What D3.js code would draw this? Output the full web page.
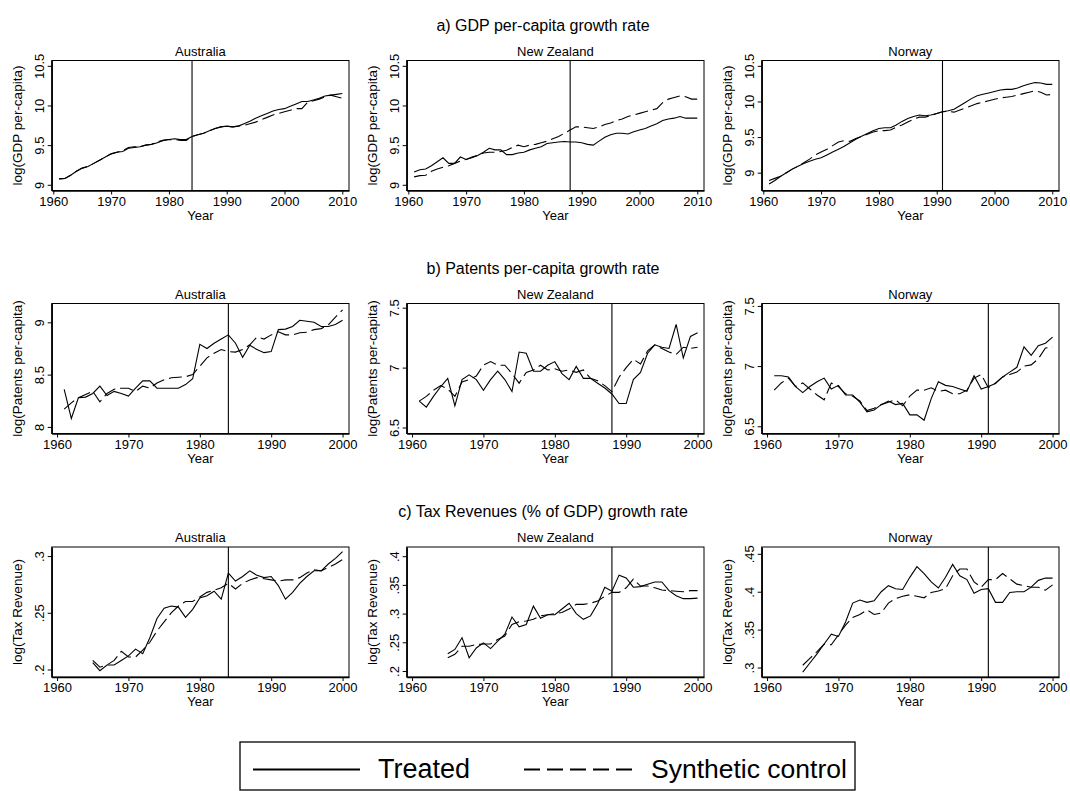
<!DOCTYPE html>
<html>
<head>
<meta charset="utf-8">
<script src="https://cdn.jsdelivr.net/npm/d3@7"></script>
<style>
  body { margin: 0; background: #fff; }
  text { font-family: "Liberation Sans", Arial, sans-serif; fill: #000; }
</style>
</head>
<body>
<div id="chart-area"></div>
<script>

// ---- data ----
let countries = ["Australia", "New Zealand", "Norway"];
let treatYears = [1984, 1988, 1991];

let rowTitles = ["a) GDP per-capita growth rate",
                 "b) Patents per-capita growth rate",
                 "c) Tax Revenues (% of GDP) growth rate"];
let rowYLabels = ["log(GDP per-capita)", "log(Patents per-capita)", "log(Tax Revenue)"];
let rowStartYear = [1961, 1961, 1965];
let rowXTicks = [[1960, 1970, 1980, 1990, 2000, 2010],
                 [1960, 1970, 1980, 1990, 2000],
                 [1960, 1970, 1980, 1990, 2000]];

// y tick labels, per panel (row by row)
let yTicks = [
  [[9, 9.5, 10, 10.5], [9, 9.5, 10, 10.5], [9, 9.5, 10, 10.5]],
  [[8, 8.5, 9], [6.5, 7, 7.5], [6.5, 7, 7.5]],
  [[.2, .25, .3], [.2, .25, .3, .35, .4], [.3, .35, .4, .45]]
];

// GDP, 1961-2010
let gdpAusTreated = [9.08, 9.08, 9.12, 9.17, 9.21, 9.23, 9.27, 9.31, 9.35, 9.39,
  9.41, 9.42, 9.46, 9.47, 9.48, 9.50, 9.51, 9.53, 9.56, 9.57,
  9.58, 9.57, 9.57, 9.61, 9.63, 9.65, 9.68, 9.71, 9.73, 9.74,
  9.73, 9.74, 9.77, 9.80, 9.84, 9.87, 9.90, 9.93, 9.95, 9.96,
  9.99, 10.02, 10.05, 10.05, 10.07, 10.09, 10.12, 10.13, 10.14, 10.15];
let gdpAusSynth = [9.07, 9.08, 9.12, 9.17, 9.21, 9.23, 9.27, 9.31, 9.35, 9.39,
  9.41, 9.43, 9.47, 9.48, 9.48, 9.50, 9.51, 9.54, 9.56, 9.57,
  9.57, 9.56, 9.56, 9.61, 9.63, 9.65, 9.68, 9.71, 9.73, 9.74,
  9.73, 9.74, 9.75, 9.77, 9.79, 9.82, 9.85, 9.88, 9.90, 9.92,
  9.94, 9.96, 9.96, 10.04, 10.06, 10.08, 10.11, 10.13, 10.11, 10.09];
let gdpNzTreated = [9.16, 9.19, 9.20, 9.24, 9.29, 9.34, 9.27, 9.27, 9.35, 9.32,
  9.34, 9.37, 9.41, 9.46, 9.44, 9.44, 9.38, 9.38, 9.40, 9.41,
  9.44, 9.46, 9.48, 9.52, 9.53, 9.54, 9.545, 9.54, 9.54, 9.53,
  9.51, 9.50, 9.55, 9.60, 9.63, 9.65, 9.65, 9.64, 9.67, 9.69,
  9.71, 9.74, 9.77, 9.81, 9.83, 9.84, 9.86, 9.84, 9.84, 9.84];
let gdpNzSynth = [9.10, 9.115, 9.12, 9.17, 9.20, 9.22, 9.24, 9.27, 9.30, 9.32,
  9.35, 9.37, 9.40, 9.41, 9.41, 9.42, 9.435, 9.47, 9.50, 9.48,
  9.50, 9.51, 9.53, 9.55, 9.58, 9.61, 9.65, 9.69, 9.73, 9.73,
  9.72, 9.71, 9.73, 9.76, 9.78, 9.81, 9.83, 9.86, 9.88, 9.90,
  9.92, 9.94, 9.96, 10.035, 10.08, 10.10, 10.12, 10.11, 10.08, 10.08];
let gdpNorTreated = [8.84, 8.89, 8.95, 9.00, 9.05, 9.09, 9.13, 9.16, 9.19, 9.21,
  9.25, 9.29, 9.33, 9.37, 9.42, 9.47, 9.51, 9.55, 9.59, 9.62,
  9.63, 9.63, 9.67, 9.72, 9.76, 9.79, 9.81, 9.80, 9.81, 9.83,
  9.855, 9.87, 9.89, 9.94, 9.99, 10.04, 10.08, 10.10, 10.12, 10.14,
  10.16, 10.17, 10.17, 10.19, 10.22, 10.245, 10.265, 10.26, 10.24, 10.24];
let gdpNorSynth = [8.89, 8.92, 8.95, 9.00, 9.05, 9.09, 9.14, 9.19, 9.25, 9.29,
  9.33, 9.38, 9.43, 9.45, 9.44, 9.48, 9.51, 9.54, 9.57, 9.59,
  9.59, 9.60, 9.64, 9.67, 9.71, 9.75, 9.78, 9.78, 9.80, 9.83,
  9.855, 9.86, 9.85, 9.88, 9.91, 9.94, 9.97, 9.99, 10.01, 10.03,
  10.05, 10.06, 10.07, 10.09, 10.11, 10.13, 10.15, 10.13, 10.09, 10.10];

// Patents, 1961-2000
let patAusTreated = [8.36, 8.08, 8.28, 8.285, 8.32, 8.39, 8.30, 8.34, 8.32, 8.295,
  8.37, 8.44, 8.44, 8.37, 8.37, 8.37, 8.37, 8.405, 8.46, 8.79,
  8.75, 8.80, 8.84, 8.88, 8.80, 8.665, 8.78, 8.74, 8.71, 8.72,
  8.93, 8.935, 8.96, 9.02, 9.01, 9.00, 8.96, 8.96, 8.98, 9.02];
let patAusSynth = [8.17, 8.23, 8.28, 8.31, 8.34, 8.24, 8.32, 8.36, 8.37, 8.37,
  8.34, 8.39, 8.37, 8.42, 8.45, 8.47, 8.475, 8.48, 8.50, 8.58,
  8.66, 8.705, 8.74, 8.72, 8.715, 8.74, 8.785, 8.86, 8.84, 8.88,
  8.91, 8.88, 8.88, 8.90, 8.905, 8.93, 8.94, 8.975, 9.05, 9.12];
let patNzTreated = [6.72, 6.67, 6.76, 6.84, 6.91, 6.68, 6.90, 6.94, 6.90, 6.81,
  6.90, 6.97, 6.90, 6.80, 7.13, 7.12, 6.97, 6.97, 7.02, 7.05,
  6.95, 6.90, 7.01, 6.91, 6.91, 6.87, 6.83, 6.78, 6.70, 6.70,
  6.90, 6.96, 7.12, 7.19, 7.17, 7.16, 7.36, 7.08, 7.26, 7.29];
let patNzSynth = [6.72, 6.76, 6.81, 6.85, 6.82, 6.76, 6.88, 6.90, 6.93, 7.02,
  7.05, 7.02, 7.02, 6.95, 6.87, 6.96, 6.98, 7.02, 6.98, 6.99,
  6.97, 6.98, 6.96, 6.98, 6.91, 6.89, 6.85, 6.80, 6.92, 7.00,
  7.07, 7.03, 7.14, 7.19, 7.16, 7.13, 7.11, 7.17, 7.16, 7.17];
let patNorTreated = [6.92, 6.92, 6.91, 6.83, 6.78, 6.83, 6.87, 6.90, 6.81, 6.84,
  6.76, 6.76, 6.70, 6.62, 6.635, 6.68, 6.71, 6.68, 6.69, 6.595,
  6.595, 6.55, 6.73, 6.87, 6.84, 6.83, 6.81, 6.79, 6.92, 6.81,
  6.83, 6.855, 6.91, 6.95, 6.99, 7.16, 7.09, 7.17, 7.19, 7.24];
let patNorSynth = [6.80, 6.86, 6.90, 6.83, 6.86, 6.81, 6.76, 6.72, 6.86, 6.83,
  6.77, 6.75, 6.71, 6.63, 6.65, 6.68, 6.70, 6.72, 6.67, 6.75,
  6.80, 6.80, 6.82, 6.79, 6.80, 6.77, 6.77, 6.80, 6.90, 6.93,
  6.82, 6.86, 6.91, 6.93, 6.95, 7.00, 7.01, 7.06, 7.15, 7.16];

// Tax revenue, 1965-2000
let taxAusTreated = [.206, .199, .204, .204, .208, .212, .218, .214, .228, .245,
  .254, .256, .255, .246, .253, .263, .265, .269, .262, .285,
  .278, .282, .287, .283, .281, .282, .274, .262, .268, .276,
  .282, .287, .287, .293, .298, .304];
let taxAusSynth = [.208, .202, .204, .208, .216, .211, .211, .217, .224, .234,
  .242, .250, .256, .260, .260, .264, .268, .270, .272, .276,
  .271, .276, .279, .281, .280, .279, .278, .279, .279, .281,
  .285, .288, .287, .290, .293, .297];
let taxNzTreated = [.230, .2375, .258, .223, .240, .249, .239, .252, .264, .294,
  .277, .281, .313, .292, .298, .298, .308, .318, .300, .290,
  .296, .317, .346, .339, .367, .362, .346, .347, .351, .355,
  .355, .340, .331, .326, .326, .327];
let taxNzSynth = [.223, .229, .243, .243, .246, .247, .247, .255, .261, .281,
  .286, .287, .290, .296, .298, .300, .302, .308, .316, .316,
  .318, .322, .330, .337, .337, .345, .360, .348, .348, .345,
  .341, .340, .339, .338, .340, .340];
let taxNorTreated = [.294, .306, .318, .331, .344, .341, .360, .385, .389, .386,
  .388, .400, .408, .404, .403, .419, .433, .424, .413, .405,
  .419, .436, .421, .416, .398, .403, .404, .386, .386, .399,
  .400, .400, .406, .415, .418, .418];
let taxNorSynth = [.303, .312, .321, .331, .330, .343, .356, .366, .370, .376,
  .370, .372, .385, .391, .394, .396, .394, .392, .399, .401,
  .404, .421, .430, .430, .413, .406, .416, .416, .424, .417,
  .410, .408, .406, .406, .402, .409];

let treatedSeries = [[gdpAusTreated, gdpNzTreated, gdpNorTreated],
                     [patAusTreated, patNzTreated, patNorTreated],
                     [taxAusTreated, taxNzTreated, taxNorTreated]];
let synthSeries = [[gdpAusSynth, gdpNzSynth, gdpNorSynth],
                   [patAusSynth, patNzSynth, patNorSynth],
                   [taxAusSynth, taxNzSynth, taxNorSynth]];

// ---- layout ----
let width = 1070, height = 791;
let colX = [51.7, 406.7, 761.7];
let rowY = [60.5, 303.5, 547];
let panelW = 297.3, panelH = 130;

let xDomains = [[1959.72, 2011.16], [1959.25, 2000.9], [1959.25, 2000.9]];
let yDomains = [
  [[8.928, 10.567], [8.928, 10.567], [8.75, 10.575]],
  [[7.937, 9.18], [6.45, 7.535], [6.44, 7.52]],
  [[.1934, .308], [.1895, .416], [.2875, .459]]
];

let svg = d3.select("#chart-area")
  .append("svg")
  .attr("width", width)
  .attr("height", height);

let fmt = d => String(d).replace(/^0\./, ".");

function drawPanel(row, col) {
  let g = svg.append("g")
    .attr("transform", "translate(" + colX[col] + "," + rowY[row] + ")");

  let x = d3.scaleLinear().domain(xDomains[row]).range([0, panelW]);
  let y = d3.scaleLinear().domain(yDomains[row][col]).range([panelH, 0]);

  // frame
  g.append("rect")
    .attr("x", 0).attr("y", 0)
    .attr("width", panelW).attr("height", panelH)
    .attr("fill", "none").attr("stroke", "#000").attr("stroke-width", 1);

  // subtitle
  g.append("text")
    .attr("x", panelW / 2).attr("y", -5)
    .attr("text-anchor", "middle").attr("font-size", "13px")
    .text(countries[col]);

  // x axis
  let xAxisCall = d3.axisBottom(x)
    .tickValues(rowXTicks[row])
    .tickFormat(d3.format("d"))
    .tickSize(4).tickSizeOuter(0).tickPadding(2);
  let xg = g.append("g")
    .attr("transform", "translate(0," + panelH + ")")
    .call(xAxisCall);
  xg.selectAll("text").attr("font-size", "13px")
    .attr("font-family", "Liberation Sans, Arial, sans-serif");

  // y axis, labels turned
  let yAxisCall = d3.axisLeft(y)
    .tickValues(yTicks[row][col])
    .tickFormat(fmt)
    .tickSize(4).tickSizeOuter(0);
  let yg = g.append("g").call(yAxisCall);
  yg.selectAll("text")
    .attr("x", null).attr("dy", null)
    .attr("text-anchor", "middle")
    .attr("transform", "translate(-8,0) rotate(-90)")
    .attr("font-size", "13px")
    .attr("font-family", "Liberation Sans, Arial, sans-serif");

  [xg, yg].forEach(a => {
    a.select(".domain").attr("stroke-width", 1.5);
    a.selectAll(".tick line").attr("stroke-width", 1);
  });

  // axis titles
  g.append("text")
    .attr("x", panelW / 2).attr("y", panelH + 29)
    .attr("text-anchor", "middle").attr("font-size", "13px")
    .text("Year");

  g.append("text")
    .attr("transform", "translate(-30," + (panelH / 2) + ") rotate(-90)")
    .attr("text-anchor", "middle").attr("font-size", "13.5px")
    .text(rowYLabels[row]);

  // treatment year
  g.append("line")
    .attr("x1", x(treatYears[col])).attr("x2", x(treatYears[col]))
    .attr("y1", 0).attr("y2", panelH)
    .attr("stroke", "#000").attr("stroke-width", 1.1);

  let line = d3.line()
    .x((d, i) => x(rowStartYear[row] + i))
    .y(d => y(d));

  g.append("path")
    .datum(synthSeries[row][col])
    .attr("d", line)
    .attr("fill", "none").attr("stroke", "#000")
    .attr("stroke-width", 1.1)
    .attr("stroke-dasharray", "13,5");

  g.append("path")
    .datum(treatedSeries[row][col])
    .attr("d", line)
    .attr("fill", "none").attr("stroke", "#000")
    .attr("stroke-width", 1.1);
}

for (let r = 0; r < 3; r++) {
  // row title
  svg.append("text")
    .attr("x", 543).attr("y", rowY[r] - 30)
    .attr("text-anchor", "middle").attr("font-size", "16px")
    .text(rowTitles[r]);
  for (let c = 0; c < 3; c++) drawPanel(r, c);
}

// legend
let lg = svg.append("g");
lg.append("rect")
  .attr("x", 240).attr("y", 742)
  .attr("width", 615).attr("height", 48)
  .attr("fill", "none").attr("stroke", "#000").attr("stroke-width", 1.3);
lg.append("line")
  .attr("x1", 253).attr("x2", 360).attr("y1", 769.5).attr("y2", 769.5)
  .attr("stroke", "#000").attr("stroke-width", 2);
lg.append("text")
  .attr("x", 378).attr("y", 778).attr("font-size", "27px")
  .text("Treated");
lg.append("line")
  .attr("x1", 524).attr("x2", 633).attr("y1", 769.5).attr("y2", 769.5)
  .attr("stroke", "#000").attr("stroke-width", 2)
  .attr("stroke-dasharray", "16,7");
lg.append("text")
  .attr("x", 651).attr("y", 778).attr("font-size", "26.5px")
  .text("Synthetic control");

</script>
</body>
</html>
